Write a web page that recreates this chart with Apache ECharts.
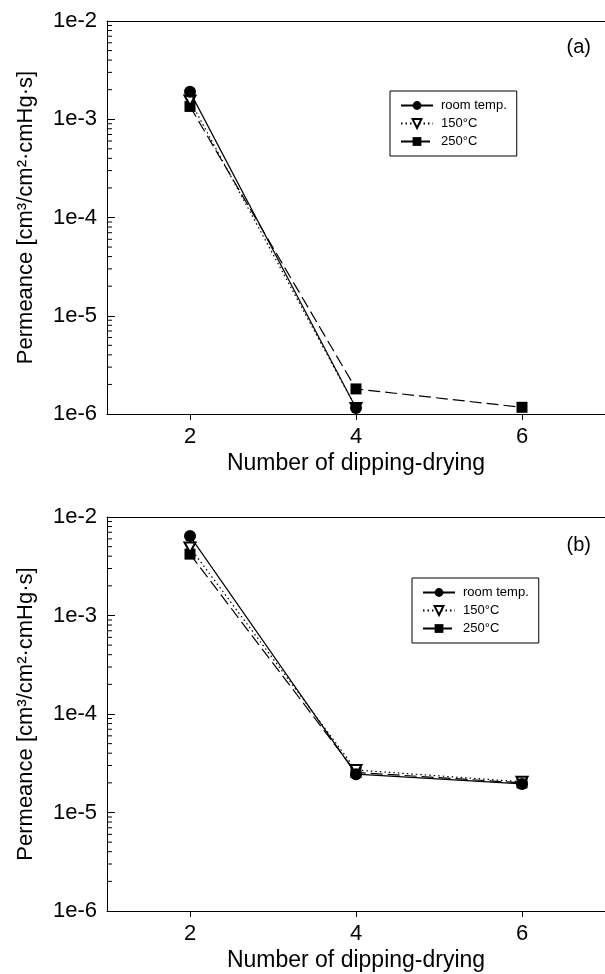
<!DOCTYPE html>
<html><head><meta charset="utf-8">
<script src="https://cdn.jsdelivr.net/npm/echarts@6/dist/echarts.min.js"></script>
<style>html,body{margin:0;padding:0;background:#fff}#c{width:605px;height:974px}</style>
</head><body><div id="c"></div>
<script>
const xValues = [2, 4, 6];
const xTicks = [2, 4, 6];
const yTickLabels = {'-6':'1e-6','-5':'1e-5','-4':'1e-4','-3':'1e-3','-2':'1e-2'};
const seriesNames = ['room temp.', '150°C', '250°C'];
// panel (a)
const aRoom = [1.9e-3, 1.15e-6, null];
const a150  = [1.55e-3, 1.15e-6, null];
const a250  = [1.35e-3, 1.8e-6, 1.17e-6];
// panel (b)
const bRoom = [6.4e-3, 2.45e-5, 1.95e-5];
const b150  = [4.9e-3, 2.7e-5, 2.05e-5];
const b250  = [4.2e-3, 2.55e-5, 2.0e-5];
const minorTickValues = [2e-6,3e-6,4e-6,5e-6,6e-6,7e-6,8e-6,9e-6,
  2e-5,3e-5,4e-5,5e-5,6e-5,7e-5,8e-5,9e-5,
  2e-4,3e-4,4e-4,5e-4,6e-4,7e-4,8e-4,9e-4,
  2e-3,3e-3,4e-3,5e-3,6e-3,7e-3,8e-3,9e-3];

const FONT = 'Liberation Sans, Arial, sans-serif';
const pairs = vals => xValues.map((x, i) => [x, vals[i]]).filter(p => p[1] != null);
const downTri = 'path://M0,0 L10,0 L5,9 Z';
const styles = [
  {symbol:'circle', symbolSize:12, itemStyle:{color:'#000'}, lineStyle:{color:'#000', width:1.2, type:'solid'}},
  {symbol:downTri, symbolSize:[11,10], itemStyle:{color:'#fff', borderColor:'#000', borderWidth:2}, lineStyle:{color:'#000', width:1.2, type:[1.5,3]}},
  {symbol:'rect', symbolSize:11, itemStyle:{color:'#000'}, lineStyle:{color:'#000', width:1.2, type:[12,5]}}
];
function mk(name, idx, data, panel) {
  return Object.assign({type:'line', name:name, xAxisIndex:panel, yAxisIndex:panel, data:pairs(data), z:3 + (2-idx), animation:false}, JSON.parse(JSON.stringify(styles[idx])));
}
function minorSeries(panel) {
  return {type:'custom', xAxisIndex:panel, yAxisIndex:panel, silent:true, animation:false, clip:false,
    data: minorTickValues.map(v => [1, v]), encode:{x:0, y:1},
    renderItem: (params, api) => {
      const p = api.coord([api.value(0), api.value(1)]);
      return {type:'line', shape:{x1:p[0], y1:p[1], x2:p[0]+5, y2:p[1]}, style:{stroke:'#000', lineWidth:1}};
    }};
}
const grids = [
  {left:107, right:0, top:21, height:393},
  {left:107, right:0, top:517, height:394}
];
function xBottom(g) {
  return {type:'value', gridIndex:g, min:1, max:7, position:'bottom',
    name:'Number of dipping-drying', nameLocation:'middle', nameGap:38,
    nameTextStyle:{fontFamily:FONT, fontSize:23, color:'#000'},
    axisLine:{show:true, onZero:false, lineStyle:{color:'#000', width:1}},
    axisTick:{show:true, customValues:xTicks, length:6, inside:false, lineStyle:{color:'#000'}},
    axisLabel:{customValues:xTicks, fontFamily:FONT, fontSize:22, color:'#000', margin:12},
    splitLine:{show:false}};
}
function xTop(g) {
  return {type:'value', gridIndex:g, min:1, max:7, position:'top',
    axisLine:{show:true, onZero:false, lineStyle:{color:'#000', width:1}},
    axisTick:{show:false}, axisLabel:{show:false}, splitLine:{show:false}};
}
function yAx(g) {
  return {type:'log', logBase:10, gridIndex:g, min:1e-6, max:1e-2,
    name:'Permeance [cm³/cm²·cmHg·s]', nameLocation:'middle', nameGap:70, nameRotate:90,
    nameTextStyle:{fontFamily:FONT, fontSize:22, color:'#000'},
    axisLine:{show:true, lineStyle:{color:'#000', width:1}},
    axisTick:{show:true, inside:true, length:8, lineStyle:{color:'#000'}},
    axisLabel:{fontFamily:FONT, fontSize:22, color:'#000', margin:10, showMinLabel:true, showMaxLabel:true,
      formatter: v => yTickLabels[String(Math.round(Math.log10(v)))] || ''},
    splitLine:{show:false}};
}
function legend(left, top) {
  return {data:seriesNames, orient:'vertical', left:left, top:top, itemWidth:32, itemHeight:11, itemGap:5,
    padding:[8,10,8,10], borderColor:'#000', borderWidth:1, selectedMode:false,
    textStyle:{fontFamily:FONT, fontSize:13, color:'#000', padding:[0,0,0,3]}};
}
const series = [];
[[aRoom,a150,a250],[bRoom,b150,b250]].forEach((set, p) => {
  set.forEach((d, i) => series.push(mk(seriesNames[i], i, d, p)));
  series.push(minorSeries(p));
});
const chart = echarts.init(document.getElementById('c'), null, {renderer:'canvas'});
chart.setOption({
  animation:false,
  backgroundColor:'#fff',
  grid: grids,
  xAxis: [xBottom(0), xBottom(1), xTop(0), xTop(1)],
  yAxis: [yAx(0), yAx(1)],
  legend: [legend(390, 91), legend(412, 578)],
  graphic: [
    {type:'text', right:14, top:37, style:{text:'(a)', font:'20px ' + FONT, fill:'#000'}},
    {type:'text', right:14, top:535, style:{text:'(b)', font:'20px ' + FONT, fill:'#000'}}
  ],
  series: series
});
</script></body></html>
